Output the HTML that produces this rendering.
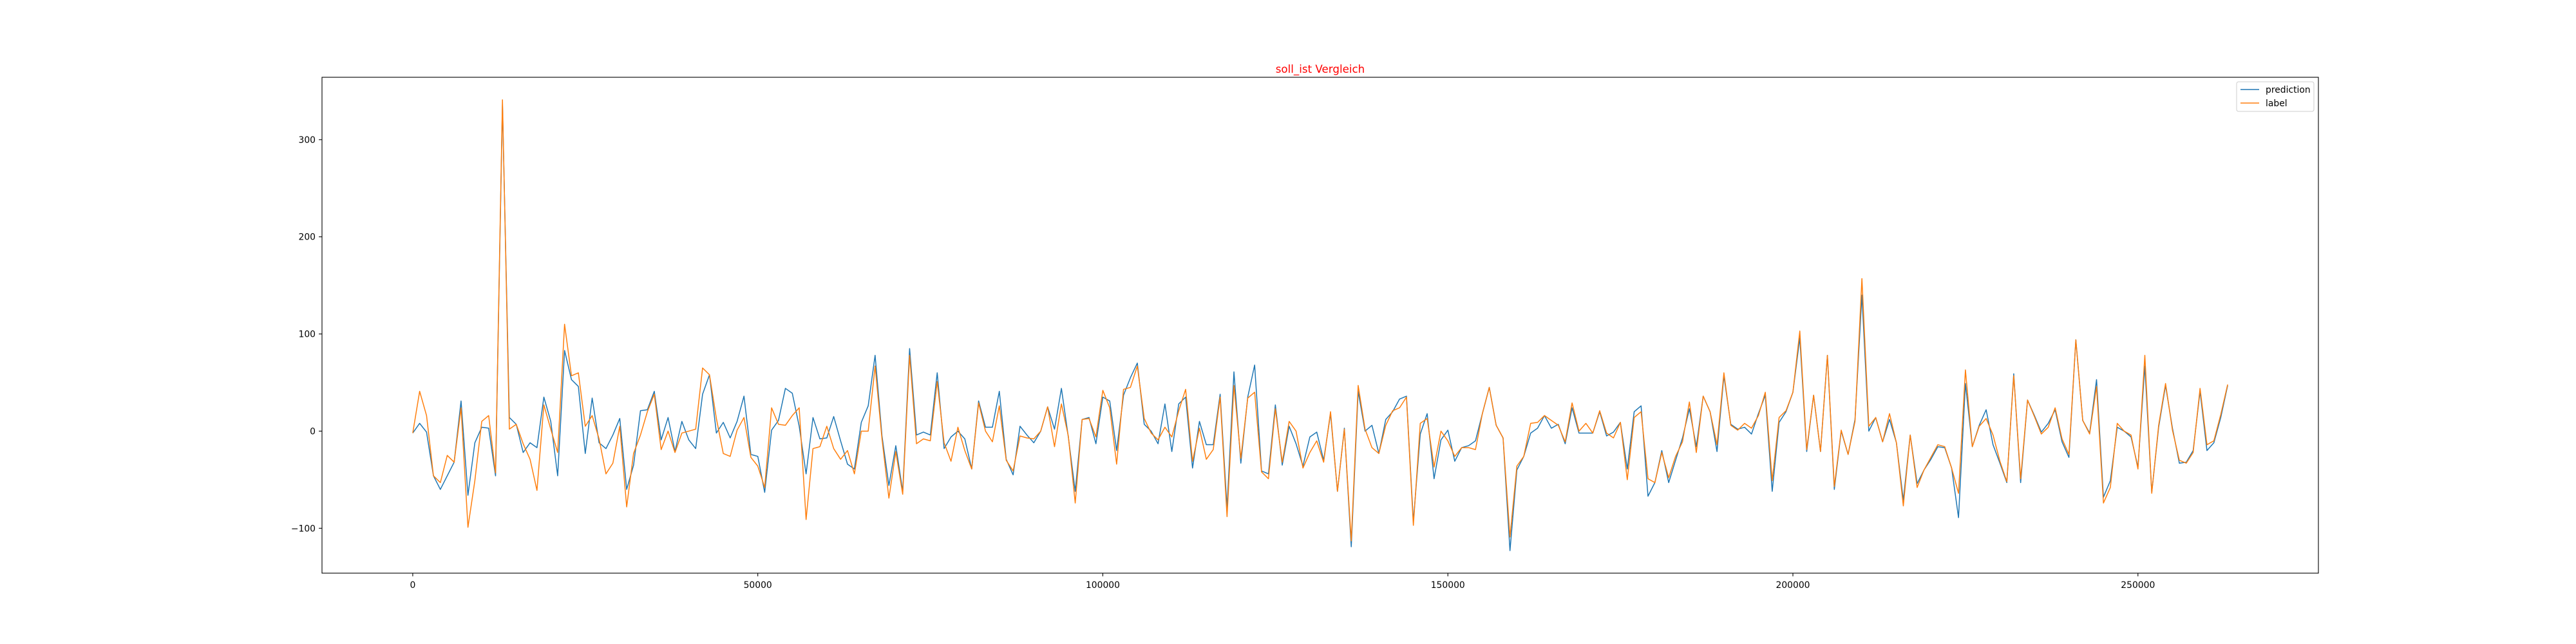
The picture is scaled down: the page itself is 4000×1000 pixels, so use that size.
<!DOCTYPE html>
<html><head><meta charset="utf-8"><style>
html,body{margin:0;padding:0;background:#fff;}
svg{display:block;font-family:"DejaVu Sans","Liberation Sans",sans-serif;}
</style></head><body>
<svg id="chart" width="4000" height="1000" viewBox="0 0 4000 1000" xmlns="http://www.w3.org/2000/svg">
<rect x="0" y="0" width="4000" height="1000" fill="#fff"/>
<text x="2050" y="113" text-anchor="middle" font-size="16.7" fill="#ff0000">soll_ist Vergleich</text>
<g id="xticks"></g>
<g id="yticks"></g>
<g id="series"></g>
<rect x="500" y="120" width="3100" height="770" fill="none" stroke="#000" stroke-width="1.1"/>
<g>
<rect x="3473" y="127" width="120" height="46" rx="3" fill="#fff" fill-opacity="0.8" stroke="#ccc" stroke-width="1"/>
<line x1="3479" y1="139" x2="3508" y2="139" stroke="#1f77b4" stroke-width="1.5"/>
<text x="3518" y="144" font-size="13.9" fill="#000">prediction</text>
<line x1="3479" y1="160" x2="3508" y2="160" stroke="#ff7f0e" stroke-width="1.5"/>
<text x="3518" y="165" font-size="13.9" fill="#000">label</text>
</g>
</svg>
<script>
const xStep = 1000;
const prediction = [-2,8,-1,-46,-60,-46,-32,31,-66,-12,4,3,-46,336,14,7,-22,-12,-17,35,10,-46,83,53,46,-23,34,-12,-18,-4,
13,-60,-35,21,22,41,-9,14,-21,10,-9,-18,38,58,-2,9,-7,10,36,-24,-26,-63,1,11,44,39,5,-44,14,-8,
-7,15,-10,-34,-39,9,26,78,-5,-56,-15,-62,85,-4,-1,-4,60,-18,-6,0,-8,-39,31,4,4,41,-29,-45,5,-4,
-12,0,25,2,44,-6,-62,12,14,-13,35,31,-20,37,55,70,7,0,-13,28,-21,28,35,-38,10,-14,-14,38,-79,61,
-33,35,68,-41,-44,27,-35,5,-13,-36,-6,-1,-30,18,-62,3,-119,41,0,6,-23,12,20,33,36,-93,-3,18,-49,-9,
1,-31,-17,-15,-10,18,45,6,-7,-123,-40,-26,-2,3,16,3,7,-13,24,-2,-2,-2,20,-5,-1,9,-39,20,26,-67,
-53,-20,-53,-30,-7,23,-16,36,20,-21,57,7,2,4,-3,18,37,-62,9,20,40,96,-21,37,-21,78,-60,0,-24,12,
140,0,14,-11,12,-12,-71,-4,-54,-40,-29,-16,-17,-38,-89,49,-16,6,22,-14,-33,-53,59,-53,32,16,-1,8,22,-11,
-27,94,11,-2,53,-68,-51,4,0,-6,-37,67,-63,4,47,3,-33,-32,-20,41,-20,-12,14,47];
const label = [-2,41,16,-46,-53,-25,-32,24,-99,-51,10,16,-43,341,2,7,-13,-29,-61,27,2,-22,110,57,60,5,16,-8,-44,-33,
5,-78,-23,-4,20,38,-19,0,-22,-2,0,2,65,58,13,-23,-26,1,14,-27,-36,-58,24,7,6,16,24,-91,-18,-16,
5,-18,-29,-20,-44,0,0,67,-8,-69,-21,-65,78,-13,-8,-10,51,-12,-31,4,-20,-39,29,0,-11,26,-30,-41,-5,-7,
-8,0,25,-16,28,-5,-74,12,13,-6,42,24,-34,43,45,67,13,-2,-9,4,-6,21,43,-31,3,-29,-19,35,-88,47,
-28,34,40,-42,-49,23,-32,10,0,-38,-22,-10,-32,20,-62,2,-113,47,2,-17,-23,6,21,24,35,-97,8,13,-37,0,
-10,-26,-17,-17,-19,18,45,6,-7,-109,-36,-26,8,9,16,11,6,-11,29,0,8,-2,21,-2,-7,9,-50,14,20,-49,
-53,-22,-48,-26,-11,30,-22,36,20,-14,60,6,1,8,3,16,40,-51,14,21,40,103,-19,37,-21,78,-57,1,-24,10,
157,5,14,-11,18,-12,-77,-4,-58,-40,-27,-14,-16,-38,-64,63,-16,5,13,-4,-31,-52,57,-49,32,15,-3,4,24,-8,
-24,94,11,-3,46,-74,-58,8,0,-4,-39,78,-64,6,49,1,-30,-33,-22,44,-14,-10,17,48];
const xTickValues = [0,50000,100000,150000,200000,250000];
const xTickLabels = ["0","50000","100000","150000","200000","250000"];
const yTickValues = [-100,0,100,200,300];
const yTickLabels = ["\u2212100","0","100","200","300"];

const NS = "http://www.w3.org/2000/svg";
const L = 500, R = 3600, T = 120, B = 890;
const n = prediction.length;
const xs = prediction.map((_, i) => i * xStep);
const xMinD = 0, xMaxD = (n - 1) * xStep;
const xPad = (xMaxD - xMinD) * 0.05;
const x0 = xMinD - xPad, x1 = xMaxD + xPad;
const allV = prediction.concat(label);
const yMinD = Math.min(...allV), yMaxD = Math.max(...allV);
const yPad = (yMaxD - yMinD) * 0.05;
const y0 = yMinD - yPad, y1 = yMaxD + yPad;
function sx(v){ return L + (v - x0) / (x1 - x0) * (R - L); }
function sy(v){ return B - (v - y0) / (y1 - y0) * (B - T); }

const xg = document.getElementById('xticks');
xTickValues.forEach((v, k) => {
  const px = sx(v);
  const t = document.createElementNS(NS, 'line');
  t.setAttribute('x1', px); t.setAttribute('x2', px);
  t.setAttribute('y1', B); t.setAttribute('y2', B + 4.9);
  t.setAttribute('stroke', '#000'); t.setAttribute('stroke-width', '1.1');
  
  
  xg.appendChild(t);
  const tx = document.createElementNS(NS, 'text');
  tx.setAttribute('x', px); tx.setAttribute('y', B + 23);
  tx.setAttribute('text-anchor', 'middle'); tx.setAttribute('font-size', '13.9');
  tx.textContent = xTickLabels[k];
  
  
  xg.appendChild(tx);
});
const yg = document.getElementById('yticks');
yTickValues.forEach((v, k) => {
  const py = sy(v);
  const t = document.createElementNS(NS, 'line');
  t.setAttribute('x1', L - 4.9); t.setAttribute('x2', L);
  t.setAttribute('y1', py); t.setAttribute('y2', py);
  t.setAttribute('stroke', '#000'); t.setAttribute('stroke-width', '1.1');
  
  
  yg.appendChild(t);
  const tx = document.createElementNS(NS, 'text');
  tx.setAttribute('x', L - 10); tx.setAttribute('y', py + 5);
  tx.setAttribute('text-anchor', 'end'); tx.setAttribute('font-size', '13.9');
  tx.textContent = yTickLabels[k];
  
  
  yg.appendChild(tx);
});
const sg = document.getElementById('series');
function drawLine(vals, color, name){
  const p = document.createElementNS(NS, 'polyline');
  p.setAttribute('points', vals.map((v, i) => sx(xs[i]).toFixed(2) + ',' + sy(v).toFixed(2)).join(' '));
  p.setAttribute('fill', 'none'); p.setAttribute('stroke', color);
  p.setAttribute('stroke-width', '1.5'); p.setAttribute('stroke-linejoin', 'round');
  
  
  sg.appendChild(p);
}
drawLine(prediction, '#1f77b4', 'prediction-line');
drawLine(label, '#ff7f0e', 'label-line');
</script>
</body></html>
